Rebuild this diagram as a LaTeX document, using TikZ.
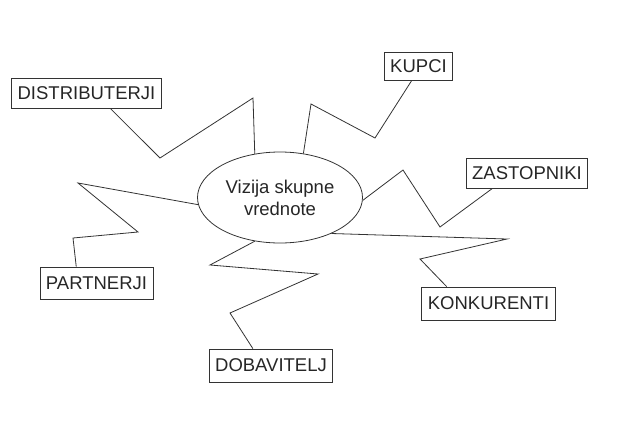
\documentclass[tikz,border=0pt]{standalone}
\usepackage{fontspec}
\setmainfont{Liberation Sans}
\usepackage{xcolor}
\usetikzlibrary{shapes.geometric}

\begin{document}
\begin{tikzpicture}[x=1pt, y=-1pt]
  \tikzstyle{lbl}=[draw=black!80, line width=0.8pt, rectangle, inner xsep=6pt, minimum height=30pt, text=black!85, font=\fontsize{18.5}{22}\selectfont]
  \tikzstyle{zig}=[draw=black!80, line width=0.8pt, line join=miter]
  \useasboundingbox (0,0) rectangle (617,423);
  \node[ellipse, draw=black!80, line width=0.8pt, minimum width=165pt, minimum height=91pt, inner sep=0pt, align=center, text=black!85, font=\fontsize{18.5}{22}\selectfont] (vis) at (280,197.5) {Vizija skupne\\vrednote};
  \node[lbl] (distr) at (86.5,93) {DISTRIBUTERJI};
  \node[lbl, minimum height=28pt] (kupci) at (418.5,66) {KUPCI};
  \node[lbl] (zast) at (527,173) {ZASTOPNIKI};
  \node[lbl, minimum height=32pt] (part) at (96.5,283) {PARTNERJI};
  \node[lbl, minimum height=33pt] (dob) at (271,365.5) {DOBAVITELJ};
  \node[lbl, minimum height=33pt] (konk) at (488.5,303.5) {KONKURENTI};
  % zigzag connectors
  \draw[zig] (distr.-33) -- (160,158) -- (253,98) -- (vis.120);
  \draw[zig] (kupci.-115) -- (375,138) -- (311,104) -- (vis.62);
  \draw[zig] (zast.-156) -- (440,227) -- (403,170) -- (vis.-2);
  \draw[zig] (konk.158) -- (420,259) -- (507,239) -- (vis.-35);
  \draw[zig] (dob.137) -- (230,313) -- (318,274) -- (210,265) -- (vis.-120);
  \draw[zig] (part.141) -- (73,238) -- (138,232) -- (78,183) -- (vis.185);
\end{tikzpicture}
\end{document}
